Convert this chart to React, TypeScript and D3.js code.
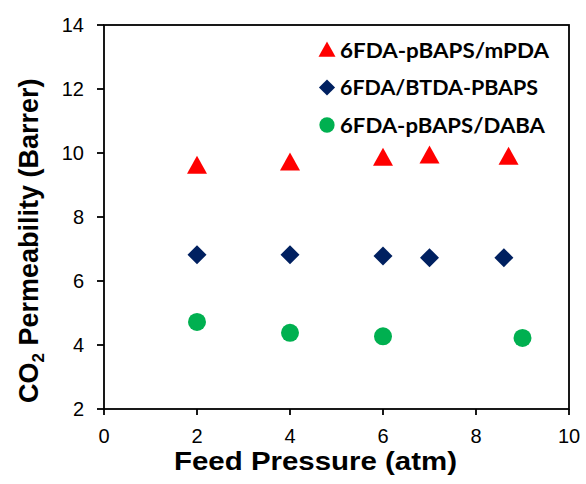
import React from "react";
import * as d3 from "d3";

const xTicks = [0, 2, 4, 6, 8, 10];
const yTicks = [2, 4, 6, 8, 10, 12, 14];

const mpdaX = [2, 4, 6, 7, 8.7];
const mpdaY = [9.6, 9.7, 9.85, 9.92, 9.88];
const btdaX = [2, 4, 6, 7, 8.6];
const btdaY = [6.82, 6.82, 6.78, 6.73, 6.73];
const dabaX = [2, 4, 6, 9];
const dabaY = [4.72, 4.38, 4.27, 4.22];

const seriesNames = ["6FDA-pBAPS/mPDA", "6FDA/BTDA-PBAPS", "6FDA-pBAPS/DABA"];
const legendLengths = [209, 198, 205];
const colors = ["#FF0000", "#002060", "#00B050"];

const W = 586, H = 484;
const L = 104, R = 569, T = 25, B = 409;

function Marker({ kind, x, y, color, s = 1 }: { kind: number; x: number; y: number; color: string; s?: number }) {
  if (kind === 0) {
    const p = d3.path();
    p.moveTo(x, y - 10 * s);
    p.lineTo(x + 10 * s, y + 8 * s);
    p.lineTo(x - 10 * s, y + 8 * s);
    p.closePath();
    return <path d={p.toString()} fill={color} />;
  }
  if (kind === 1) {
    const p = d3.path();
    p.moveTo(x, y - 9.5 * s);
    p.lineTo(x + 9.5 * s, y);
    p.lineTo(x, y + 9.5 * s);
    p.lineTo(x - 9.5 * s, y);
    p.closePath();
    return <path d={p.toString()} fill={color} />;
  }
  return <circle cx={x} cy={y} r={9 * s} fill={color} />;
}

export default function App() {
  const x = d3.scaleLinear().domain([0, 10]).range([L, R]);
  const y = d3.scaleLinear().domain([2, 14]).range([B, T]);
  const series = [
    { xs: mpdaX, ys: mpdaY },
    { xs: btdaX, ys: btdaY },
    { xs: dabaX, ys: dabaY },
  ];
  const font = "Liberation Sans, Arial, sans-serif";
  return (
    <svg width={W} height={H} style={{ display: "block", position: "absolute", left: 0, top: 0 }}>
      <rect width={W} height={H} fill="#fff" />
      <rect x={L} y={T} width={R - L} height={B - T} fill="none" stroke="#000" strokeWidth={1.8} />
      {xTicks.map((t) => (
        <g key={"x" + t}>
          <line x1={x(t)} x2={x(t)} y1={B} y2={B + 6} stroke="#000" strokeWidth={1.8} />
          <text x={x(t)} y={B + 34} textAnchor="middle" fontFamily={font} fontSize={20}>
            {t}
          </text>
        </g>
      ))}
      {yTicks.map((t) => (
        <g key={"y" + t}>
          <line x1={L - 7} x2={L} y1={y(t)} y2={y(t)} stroke="#000" strokeWidth={1.8} />
          <text x={L - 20} y={y(t) + 7} textAnchor="end" fontFamily={font} fontSize={20}>
            {t}
          </text>
        </g>
      ))}
      <text
        x={174}
        y={470}
        textLength={283}
        lengthAdjust="spacingAndGlyphs"
        fontFamily={font}
        fontWeight="bold"
        fontSize={26}
      >
        Feed Pressure (atm)
      </text>
      <text
        transform={`translate(38, 403) rotate(-90)`}
        fontFamily={font}
        fontWeight="bold"
        fontSize={27}
      >
        CO<tspan fontSize={17} dy={6}>2</tspan>
        <tspan dy={-6}> Permeability (Barrer)</tspan>
      </text>
      {series.map((s, i) =>
        s.xs.map((v, j) => <Marker key={i + "-" + j} kind={i} x={x(v)} y={y(s.ys[j])} color={colors[i]} />)
      )}
      {seriesNames.map((n, i) => (
        <g key={n}>
          <Marker kind={i} x={327} y={50 + i * 37.5} color={colors[i]} s={0.85} />
          <text
            x={340}
            y={50 + i * 37.5 + 7.5}
            textLength={legendLengths[i]}
            lengthAdjust="spacingAndGlyphs"
            fontFamily="Lato, Carlito, Calibri, sans-serif"
            fontWeight="bold"
            fontSize={21}
          >
            {n}
          </text>
        </g>
      ))}
    </svg>
  );
}
